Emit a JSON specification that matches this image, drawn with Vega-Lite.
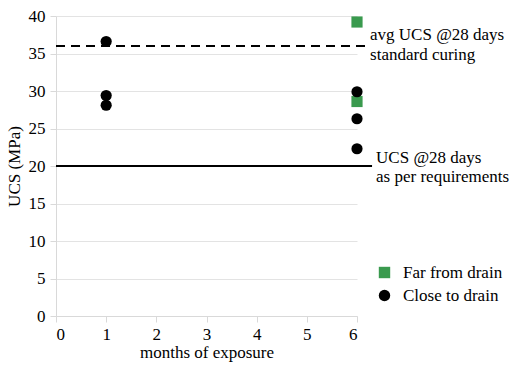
{
  "$schema": "https://vega.github.io/schema/vega-lite/v6.json",
  "width": 301,
  "height": 300,
  "autosize": {"type": "none"},
  "padding": {"left": 56, "top": 16, "right": 160, "bottom": 49},
  "background": "white",
  "config": {
    "view": {"stroke": null},
    "font": "Liberation Serif",
    "axis": {
      "labelFont": "Liberation Serif",
      "labelFontSize": 17,
      "labelColor": "#000000",
      "titleFont": "Liberation Serif",
      "titleFontSize": 17,
      "titleFontWeight": "normal",
      "titleColor": "#000000",
      "domainColor": "#d9d9d9",
      "tickColor": "#d9d9d9",
      "gridColor": "#e3e3e3",
      "tickSize": 6
    },
    "legend": {
      "labelFont": "Liberation Serif",
      "labelFontSize": 17,
      "labelColor": "#000000"
    }
  },
  "encoding": {
    "x": {
      "field": "month", "type": "quantitative",
      "scale": {"domain": [0, 6], "nice": false, "zero": true},
      "axis": {"values": [0, 1, 2, 3, 4, 5, 6], "grid": false, "title": "months of exposure", "labelPadding": 4, "titlePadding": 2, "format": "d", "labelOverlap": false, "labelFont": "Liberation Serif", "labelFontSize": 17, "titleFont": "Liberation Serif", "titleFontSize": 17}
    },
    "y": {
      "field": "ucs", "type": "quantitative",
      "scale": {"domain": [0, 40], "nice": false},
      "axis": {"values": [0, 5, 10, 15, 20, 25, 30, 35, 40], "grid": true, "title": "UCS (MPa)", "labelPadding": 5, "titlePadding": 5, "labelOverlap": false, "labelFont": "Liberation Serif", "labelFontSize": 17, "titleFont": "Liberation Serif", "titleFontSize": 17}
    }
  },
  "layer": [
    {
      "data": {"values": [
        {"month": 6, "ucs": 39.2, "location": "Far from drain"},
        {"month": 6, "ucs": 28.6, "location": "Far from drain"},
        {"month": 1, "ucs": 36.6, "location": "Close to drain"},
        {"month": 1, "ucs": 29.4, "location": "Close to drain"},
        {"month": 1, "ucs": 28.1, "location": "Close to drain"},
        {"month": 6, "ucs": 29.9, "location": "Close to drain"},
        {"month": 6, "ucs": 26.3, "location": "Close to drain"},
        {"month": 6, "ucs": 22.3, "location": "Close to drain"}
      ]},
      "mark": {"type": "point", "filled": true, "opacity": 1, "size": 125},
      "encoding": {
        "color": {
          "field": "location", "type": "nominal",
          "scale": {"domain": ["Far from drain", "Close to drain"], "range": ["#3a9a4e", "#000000"]},
          "legend": {"title": null, "orient": "none", "legendX": 320, "legendY": 248, "symbolSize": 130, "rowPadding": 5, "labelOffset": 10, "labelFont": "Liberation Serif", "labelFontSize": 17}
        },
        "shape": {
          "field": "location", "type": "nominal",
          "scale": {"domain": ["Far from drain", "Close to drain"], "range": ["square", "circle"]},
          "legend": {"title": null, "orient": "none", "legendX": 320, "legendY": 248, "symbolSize": 130, "rowPadding": 5, "labelOffset": 10, "labelFont": "Liberation Serif", "labelFontSize": 17}
        }
      }
    },
    {
      "data": {"values": [{"month": 0, "month2": 6.16, "ucs": 36}]},
      "mark": {"type": "rule", "strokeWidth": 2, "color": "#000000", "strokeDash": [9, 6]},
      "encoding": {
        "x2": {"field": "month2"}
      }
    },
    {
      "data": {"values": [{"month": 0, "month2": 6.3, "ucs": 20}]},
      "mark": {"type": "rule", "strokeWidth": 2, "color": "#000000"},
      "encoding": {
        "x2": {"field": "month2"}
      }
    },
    {
      "data": {"values": [
        {"month": 6.26, "ucs": 36.8, "label": "avg UCS @28 days"},
        {"month": 6.26, "ucs": 34.1, "label": "standard curing"},
        {"month": 6.38, "ucs": 20.4, "label": "UCS @28 days"},
        {"month": 6.38, "ucs": 17.85, "label": "as per requirements"}
      ]},
      "mark": {"type": "text", "align": "left", "baseline": "alphabetic", "font": "Liberation Serif", "fontSize": 17, "color": "#000000"},
      "encoding": {
        "text": {"field": "label"}
      }
    }
  ]
}
